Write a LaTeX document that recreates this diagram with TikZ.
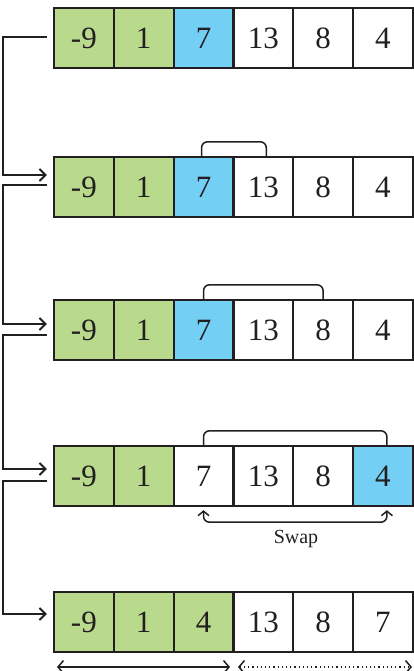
\documentclass[tikz,border=0pt]{standalone}
\usepackage{fontspec}
\setmainfont{Liberation Serif}
\usetikzlibrary{arrows.meta}
\definecolor{ink}{RGB}{35,31,32}
\definecolor{cgreen}{RGB}{185,218,140}
\definecolor{cblue}{RGB}{116,207,245}
\tikzset{
  cell/.style={minimum width=59.8pt, minimum height=60pt, inner sep=0pt, font=\fontsize{31}{36}\selectfont, text=ink},
  gcell/.style={cell, fill=cgreen},
  bcell/.style={cell, fill=cblue},
  wcell/.style={cell, fill=white},
  border/.style={draw=ink, line width=1.8pt},
  conn/.style={draw=ink, line width=1.8pt, -{Straight Barb[length=6pt,width=12pt,line width=1.9pt]}},
  brk/.style={draw=ink, line width=1.5pt, rounded corners=6pt},
  swp/.style={draw=ink, line width=1.5pt, rounded corners=6pt, {Straight Barb[length=4.5pt,width=11pt,line width=1.5pt]}-{Straight Barb[length=4.5pt,width=11pt,line width=1.5pt]}},
  span/.style={draw=ink, line width=1.4pt, {Straight Barb[length=5.5pt,width=13pt,line width=1.5pt]}-{Straight Barb[length=5.5pt,width=13pt,line width=1.5pt]}}
}
\begin{document}
\begin{tikzpicture}[x=1pt,y=-1pt]
\useasboundingbox (0,0) rectangle (414,671);
\fill[white] (0,0) rectangle (414,671);
\foreach \r/\y/\a/\b/\c/\d/\e/\f/\sa/\sb/\sc/\sd/\se/\sf in {
  1/38/-9/1/7/13/8/4/gcell/gcell/bcell/wcell/wcell/wcell,
  2/187/-9/1/7/13/8/4/gcell/gcell/bcell/wcell/wcell/wcell,
  3/330/-9/1/7/13/8/4/gcell/gcell/bcell/wcell/wcell/wcell,
  4/476/-9/1/7/13/8/4/gcell/gcell/wcell/wcell/wcell/bcell,
  5/622/-9/1/4/13/8/7/gcell/gcell/gcell/wcell/wcell/wcell}{
  \node[\sa] (r\r c1) at (83.9,\y) {\a};
  \node[\sb] (r\r c2) at (143.7,\y) {\b};
  \node[\sc] (r\r c3) at (203.5,\y) {\c};
  \node[\sd] (r\r c4) at (263.3,\y) {\d};
  \node[\se] (r\r c5) at (323.1,\y) {\e};
  \node[\sf] (r\r c6) at (382.9,\y) {\f};
  \foreach \k in {1,...,6}{
    \draw[border] (r\r c\k.north west) rectangle (r\r c\k.south east);
  }
}
\coordinate (L) at (10,0);
% connectors
\draw[conn] ([xshift=-7pt,yshift=1pt]r1c1.west) -- ([xshift=-7pt,yshift=1pt]r1c1.west -| L) |- ([xshift=-7pt,yshift=12pt]r2c1.west);
\draw[conn] ([xshift=-7pt,yshift=2pt]r2c1.west) -- ([xshift=-7pt,yshift=2pt]r2c1.west -| L) |- ([xshift=-7pt,yshift=6pt]r3c1.west);
\draw[conn] ([xshift=-7pt,yshift=-5pt]r3c1.west) -- ([xshift=-7pt,yshift=-5pt]r3c1.west -| L) |- ([xshift=-7pt,yshift=7pt]r4c1.west);
\draw[conn] ([xshift=-7pt,yshift=-5pt]r4c1.west) -- ([xshift=-7pt,yshift=-5pt]r4c1.west -| L) |- ([xshift=-7pt,yshift=8pt]r5c1.west);
% brackets
\draw[brk] ([xshift=-2pt,yshift=1pt]r2c3.north) -- ++(0,-14) -| ([xshift=3pt,yshift=1pt]r2c4.north);
\draw[brk] ([yshift=1pt]r3c3.north) -- ++(0,-14) -| ([yshift=1pt]r3c5.north);
\draw[brk] ([yshift=1pt]r4c3.north) -- ++(0,-14) -| ([xshift=4pt,yshift=1pt]r4c6.north);
% swap
\draw[swp] ([yshift=-4pt]r4c3.south) -- ([yshift=-16pt]r4c3.south) -| ([xshift=4pt,yshift=-4pt]r4c6.south);
\node[font=\fontsize{20}{23}\selectfont, text=ink] (swap) at (296,539) {Swap};
% spans
\coordinate (s1) at (57,667);
\coordinate (s2) at (230,667);
\coordinate (s3) at (238,667);
\coordinate (s4) at (412,667);
\draw[span] (s1) -- (s2);
\draw[span, dash pattern=on 1.2pt off 3pt] (s3) -- (s4);
\end{tikzpicture}
\end{document}
